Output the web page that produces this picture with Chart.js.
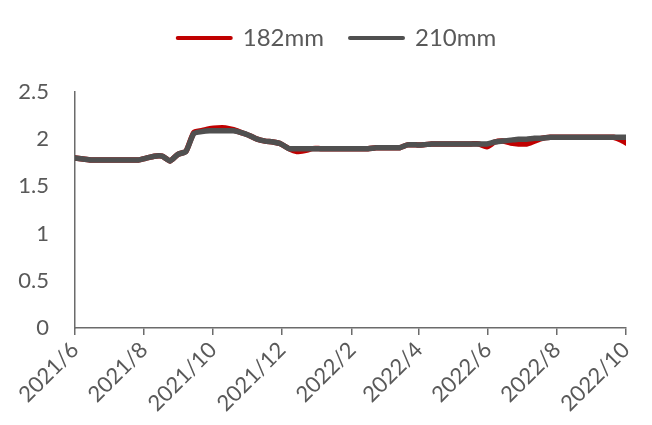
<!DOCTYPE html>
<html>
<head>
<meta charset="utf-8">
<script src="https://cdn.jsdelivr.net/npm/chart.js@4.4.0/dist/chart.umd.min.js"></script>
<style>
  html, body { margin: 0; padding: 0; background: #fff; }
  #wrap { width: 652px; height: 425px; }
</style>
</head>
<body>
<div id="wrap"><canvas id="chart" width="652" height="425"></canvas></div>
<script>
// weekly observations, first week 2021-06-01
const startDate = '2021-06-01';

const price182 = [
    1.80, 1.79, 1.78, 1.78, 1.78, 1.78, 1.78, 1.78, 1.78, 1.80,
    1.82, 1.82, 1.77, 1.84, 1.87, 2.07, 2.09, 2.11, 2.12, 2.12,
    2.10, 2.07, 2.04, 2.00, 1.98, 1.97, 1.95, 1.90, 1.87, 1.88,
    1.90, 1.90, 1.90, 1.90, 1.90, 1.90, 1.90, 1.90, 1.91, 1.91,
    1.91, 1.91, 1.94, 1.94, 1.94, 1.95, 1.95, 1.95, 1.95, 1.95,
    1.95, 1.95, 1.92, 1.97, 1.98, 1.96, 1.95, 1.95, 1.98, 2.01,
    2.02, 2.02, 2.02, 2.02, 2.02, 2.02, 2.02, 2.02, 2.02, 1.99,
    1.94
];

const price210 = [
    1.80, 1.79, 1.78, 1.78, 1.78, 1.78, 1.78, 1.78, 1.78, 1.80,
    1.82, 1.82, 1.77, 1.84, 1.87, 2.06, 2.08, 2.09, 2.09, 2.09,
    2.09, 2.07, 2.04, 2.00, 1.98, 1.97, 1.95, 1.90, 1.90, 1.90,
    1.90, 1.90, 1.90, 1.90, 1.90, 1.90, 1.90, 1.90, 1.91, 1.91,
    1.91, 1.91, 1.94, 1.94, 1.94, 1.95, 1.95, 1.95, 1.95, 1.95,
    1.95, 1.95, 1.95, 1.97, 1.98, 1.99, 2.00, 2.00, 2.01, 2.01,
    2.02, 2.02, 2.02, 2.02, 2.02, 2.02, 2.02, 2.02, 2.02, 2.02,
    2.02
];

const tickDates = ['2021-06-01', '2021-08-01', '2021-10-01', '2021-12-01', '2022-02-01',
                   '2022-04-01', '2022-06-01', '2022-08-01', '2022-10-01'];
const tickLabels = ['2021/6', '2021/8', '2021/10', '2021/12', '2022/2',
                    '2022/4', '2022/6', '2022/8', '2022/10'];

const yTicks = [0, 0.5, 1, 1.5, 2, 2.5];

const FONT = 'Lato, "Open Sans", sans-serif';
const TEXT = '#595959';
const AXIS = '#6b6b6b';

function dayOffset(s) {
    const p = s.split('-').map(Number);
    const b = startDate.split('-').map(Number);
    return (Date.UTC(p[0], p[1] - 1, p[2]) - Date.UTC(b[0], b[1] - 1, b[2])) / 86400000;
}

function toPoints(values) {
    return values.map((v, i) => ({ x: i * 7, y: v }));
}

// legend box height fixed, legend nudged right like the original
const legendTweak = {
    id: 'legendTweak',
    beforeInit(chart) {
        const legend = chart.legend;
        const fit = legend.fit;
        legend.fit = function () {
            fit.call(this);
            this.height = 92;
        };
        const draw = legend.draw;
        legend.draw = function () {
            const ctx = this.ctx;
            ctx.save();
            ctx.translate(24, 0);
            draw.call(this);
            ctx.restore();
        };
    }
};

const ctx = document.getElementById('chart').getContext('2d');
new Chart(ctx, {
    type: 'line',
    data: {
        datasets: [{
            label: '182mm',
            data: toPoints(price182),
            borderColor: '#C00000',
            backgroundColor: '#C00000',
            borderWidth: 5.5,
            borderCapStyle: 'round',
            borderJoinStyle: 'round',
            pointRadius: 0,
            tension: 0.2,
            order: 2
        }, {
            label: '210mm',
            data: toPoints(price210),
            borderColor: '#505050',
            backgroundColor: '#505050',
            borderWidth: 5.5,
            borderCapStyle: 'round',
            borderJoinStyle: 'round',
            pointRadius: 0,
            tension: 0.2,
            order: 1
        }]
    },
    options: {
        responsive: false,
        animation: false,
        devicePixelRatio: 1,
        layout: { padding: { left: 0, right: 26, top: 0, bottom: 0 } },
        plugins: {
            tooltip: { enabled: false },
            legend: {
                position: 'top',
                labels: {
                    usePointStyle: true,
                    pointStyle: 'line',
                    pointStyleWidth: 53,
                    padding: 26,
                    color: TEXT,
                    font: { family: FONT, size: 24 },
                    sort: (a, b) => a.datasetIndex - b.datasetIndex,
                    generateLabels(chart) {
                        const items = Chart.defaults.plugins.legend.labels.generateLabels(chart);
                        items.forEach(it => { it.lineWidth = 4; it.lineCap = 'round'; });
                        return items;
                    }
                }
            }
        },
        scales: {
            x: {
                type: 'linear',
                min: dayOffset(tickDates[0]),
                max: dayOffset(tickDates[tickDates.length - 1]),
                afterBuildTicks(scale) {
                    scale.ticks = tickDates.map(d => ({ value: dayOffset(d) }));
                },
                afterFit(scale) { scale.height = 97; },
                grid: {
                    display: true,
                    drawOnChartArea: false,
                    drawTicks: true,
                    tickLength: 7,
                    color: AXIS,
                    lineWidth: 1.5
                },
                border: { display: true, color: AXIS, width: 1.5 },
                ticks: {
                    autoSkip: false,
                    minRotation: 45,
                    maxRotation: 45,
                    padding: 2,
                    color: TEXT,
                    font: { family: FONT, size: 22 },
                    callback: (value, index) => tickLabels[index]
                }
            },
            y: {
                min: 0,
                max: 2.5,
                afterBuildTicks(scale) {
                    scale.ticks = yTicks.map(v => ({ value: v }));
                },
                afterFit(scale) { scale.width = 75; },
                grid: { display: false },
                border: { display: true, color: AXIS, width: 1.5 },
                ticks: {
                    padding: 18,
                    color: TEXT,
                    font: { family: FONT, size: 22 },
                    callback: v => String(v)
                }
            }
        }
    },
    plugins: [legendTweak]
});
</script>
</body>
</html>
